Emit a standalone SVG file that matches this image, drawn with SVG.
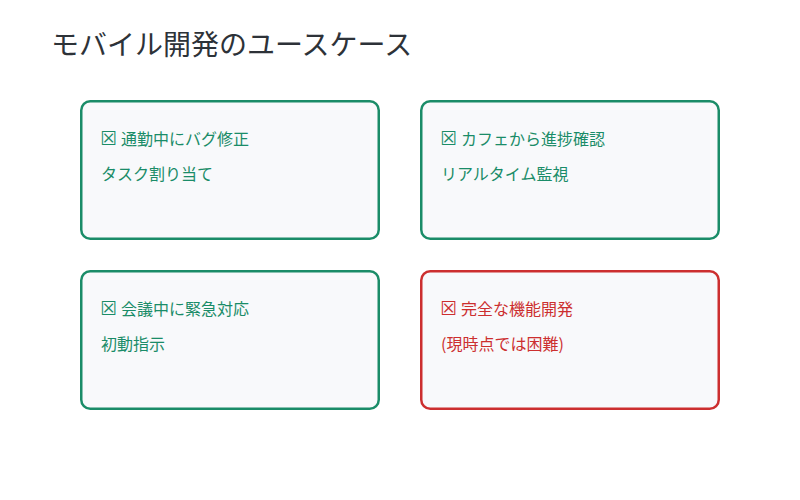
<svg xmlns="http://www.w3.org/2000/svg" width="800" height="500" viewBox="0 0 800 500">
<style>
.card{fill:#f8f9fb;stroke-width:2.5}
.ok{stroke:#1a8c68}
.ng{stroke:#cc2f2f}
.t{font-family:"Noto Sans CJK JP","Noto Sans","DejaVu Sans",sans-serif;font-size:16px}
.ic{font-family:"DejaVu Sans",sans-serif;font-size:19px}
.okt{fill:#1a8c68}
.ngt{fill:#cc2f2f}
.title{font-family:"Noto Sans CJK JP","Noto Sans",sans-serif;font-size:28px;fill:#2d3238}
</style>
<rect width="800" height="500" fill="#ffffff"/>
<text class="title" x="51" y="55">モバイル開発のユースケース</text>
<g id="card1">
<rect class="card ok" x="81.25" y="101.25" width="297.5" height="137.5" rx="9"/>
<text class="t okt" x="100" y="145"><tspan class="ic">☒</tspan><tspan x="119"> </tspan><tspan x="121">通勤中にバグ修正</tspan></text>
<text class="t okt" x="101" y="180">タスク割り当て</text>
</g>
<g id="card2">
<rect class="card ok" x="421.25" y="101.25" width="297.5" height="137.5" rx="9"/>
<text class="t okt" x="440" y="145"><tspan class="ic">☒</tspan><tspan x="459"> </tspan><tspan x="461">カフェから進捗確認</tspan></text>
<text class="t okt" x="441" y="180">リアルタイム監視</text>
</g>
<g id="card3">
<rect class="card ok" x="81.25" y="271.25" width="297.5" height="137.5" rx="9"/>
<text class="t okt" x="100" y="315"><tspan class="ic">☒</tspan><tspan x="119"> </tspan><tspan x="121">会議中に緊急対応</tspan></text>
<text class="t okt" x="101" y="350">初動指示</text>
</g>
<g id="card4">
<rect class="card ng" x="421.25" y="271.25" width="297.5" height="137.5" rx="9"/>
<text class="t ngt" x="440" y="315"><tspan class="ic">☒</tspan><tspan x="459"> </tspan><tspan x="461">完全な機能開発</tspan></text>
<text class="t ngt" x="441" y="350">(現時点では困難)</text>
</g>
<g id="connectors"/>
</svg>
